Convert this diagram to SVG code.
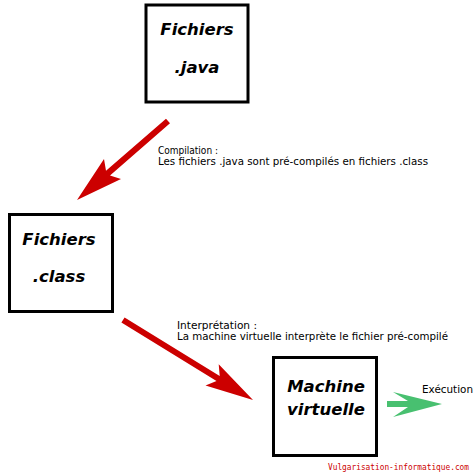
<svg xmlns="http://www.w3.org/2000/svg" width="476" height="476" viewBox="0 0 476 476">
<style>
.box{fill:#ffffff;stroke:#000000;stroke-width:3}
.title{font-family:"DejaVu Sans",Verdana,sans-serif;font-weight:bold;font-style:italic;font-size:16.5px;fill:#000000;text-anchor:middle}
.lbl{font-family:"DejaVu Sans",Verdana,sans-serif;font-size:10px;fill:#000000}
.red{fill:#cc0000}
.green{fill:#48c070}
.wm{font-family:"DejaVu Sans Mono","Liberation Mono",monospace;font-size:8px;fill:#cc0000}
</style>
<rect width="476" height="476" fill="#ffffff"/>
<g id="node-java">
<rect class="box" x="146" y="5" width="102" height="97"/>
<text class="title" x="197" y="35">Fichiers</text>
<text class="title" x="197" y="73">.java</text>
</g>
<g id="node-class">
<rect class="box" x="9.5" y="214.5" width="103" height="97"/>
<text class="title" x="59" y="245">Fichiers</text>
<text class="title" x="59" y="282">.class</text>
</g>
<g id="node-vm">
<rect class="box" x="273.5" y="357.5" width="103" height="98"/>
<text class="title" x="326" y="392">Machine</text>
<text class="title" x="326" y="415">virtuelle</text>
</g>
<g id="connectors">
<polygon class="red" points="170,123.3 110,175.4 121,179 77,200 104,159 106,170.8 166,118.7"/>
<polygon class="red" points="124.6,317.4 219.7,375.9 218.7,364.2 253,400 205.5,385.5 216.5,381.1 121.4,322.6"/>
<polygon class="green" points="387,401 408,401 393,392 442,404 393,417 408,407 387,407"/>
<text class="lbl" x="158" y="154" textLength="60" lengthAdjust="spacingAndGlyphs">Compilation :</text>
<text class="lbl" x="158" y="165" textLength="270" lengthAdjust="spacingAndGlyphs">Les fichiers .java sont pré-compilés en fichiers .class</text>
<text class="lbl" x="177" y="328.5" textLength="80" lengthAdjust="spacingAndGlyphs">Interprétation :</text>
<text class="lbl" x="177" y="339.5" textLength="271" lengthAdjust="spacingAndGlyphs">La machine virtuelle interprète le fichier pré-compilé</text>
<text class="lbl" x="422" y="393" textLength="51" lengthAdjust="spacingAndGlyphs">Exécution</text>
</g>
<text class="wm" x="328" y="470" textLength="141" lengthAdjust="spacingAndGlyphs">Vulgarisation-informatique.com</text>
</svg>
